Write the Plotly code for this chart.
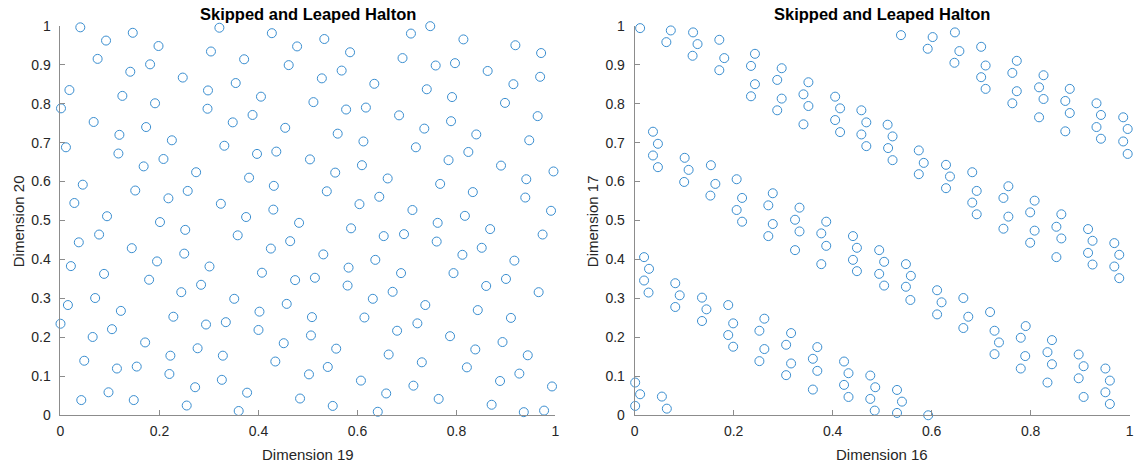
import plotly.graph_objects as go

# Left panel: Dimension 19 (x) vs Dimension 20 (y)
dim19 = [
    0.040, 0.092, 0.146, 0.198, 0.321, 0.427, 0.478, 0.075, 0.141, 0.181, 0.304, 0.371, 0.461,
    0.018, 0.125, 0.247, 0.298, 0.354, 0.405, 0.001, 0.191, 0.297, 0.388, 0.067, 0.173, 0.348,
    0.454, 0.119, 0.225, 0.011, 0.331, 0.436,
    0.533, 0.585, 0.708, 0.747, 0.814, 0.919, 0.971, 0.691, 0.758, 0.797, 0.568, 0.528, 0.863,
    0.634, 0.740, 0.915, 0.969, 0.511, 0.577, 0.617, 0.791, 0.898, 0.684, 0.789, 0.964, 0.560,
    0.735, 0.840, 0.612, 0.947, 0.718, 0.824,
    0.117, 0.397, 0.168, 0.208, 0.274, 0.381, 0.045, 0.431, 0.151, 0.257, 0.218, 0.028, 0.324,
    0.430, 0.094, 0.375, 0.201, 0.482, 0.252, 0.078, 0.358, 0.037, 0.464, 0.144, 0.425, 0.250,
    0.195, 0.021, 0.301, 0.088, 0.407, 0.179, 0.474, 0.284,
    0.504, 0.555, 0.609, 0.661, 0.784, 0.890, 0.941, 0.996, 0.538, 0.644, 0.604, 0.767, 0.833,
    0.939, 0.711, 0.817, 0.991, 0.587, 0.762, 0.868, 0.653, 0.694, 0.974, 0.760, 0.851, 0.531,
    0.636, 0.812, 0.917, 0.582, 0.688, 0.794, 0.514, 0.900, 0.580, 0.860,
    0.244, 0.070, 0.015, 0.122, 0.351, 0.402, 0.457, 0.228, 0.000, 0.294, 0.334, 0.104, 0.065,
    0.400, 0.171, 0.277, 0.451, 0.048, 0.222, 0.328, 0.114, 0.154, 0.434, 0.220, 0.326, 0.272,
    0.097, 0.377, 0.042, 0.148, 0.484, 0.255, 0.360,
    0.671, 0.966, 0.631, 0.737, 0.508, 0.614, 0.843, 0.910, 0.506, 0.680, 0.721, 0.787, 0.557,
    0.838, 0.893, 0.663, 0.944, 0.502, 0.540, 0.730, 0.821, 0.927, 0.607, 0.888, 0.713, 0.658,
    0.993, 0.764, 0.550, 0.871, 0.641, 0.936, 0.977,
]
dim20 = [
    0.996, 0.962, 0.982, 0.948, 0.995, 0.981, 0.947, 0.915, 0.882, 0.901, 0.934, 0.914, 0.899,
    0.835, 0.820, 0.867, 0.834, 0.853, 0.818, 0.788, 0.801, 0.787, 0.771, 0.753, 0.740, 0.752,
    0.738, 0.720, 0.706, 0.688, 0.692, 0.677,
    0.966, 0.932, 0.980, 0.999, 0.965, 0.950, 0.930, 0.917, 0.898, 0.904, 0.885, 0.865, 0.884,
    0.851, 0.837, 0.850, 0.869, 0.804, 0.785, 0.790, 0.817, 0.802, 0.770, 0.755, 0.768, 0.723,
    0.736, 0.721, 0.703, 0.706, 0.688, 0.676,
    0.672, 0.671, 0.639, 0.658, 0.624, 0.610, 0.592, 0.589, 0.577, 0.576, 0.557, 0.545, 0.543,
    0.528, 0.511, 0.509, 0.496, 0.494, 0.476, 0.464, 0.462, 0.444, 0.447, 0.429, 0.428, 0.415,
    0.395, 0.383, 0.382, 0.363, 0.366, 0.348, 0.347, 0.335,
    0.657, 0.623, 0.642, 0.608, 0.655, 0.641, 0.606, 0.626, 0.575, 0.561, 0.542, 0.594, 0.573,
    0.559, 0.527, 0.512, 0.525, 0.480, 0.494, 0.478, 0.460, 0.465, 0.464, 0.446, 0.430, 0.413,
    0.399, 0.412, 0.397, 0.379, 0.365, 0.365, 0.353, 0.350, 0.333, 0.332,
    0.316, 0.301, 0.283, 0.268, 0.299, 0.266, 0.286, 0.253, 0.235, 0.233, 0.239, 0.221, 0.201,
    0.219, 0.187, 0.172, 0.185, 0.140, 0.153, 0.153, 0.120, 0.125, 0.138, 0.106, 0.091, 0.072,
    0.059, 0.058, 0.039, 0.039, 0.043, 0.025, 0.011,
    0.317, 0.316, 0.299, 0.283, 0.252, 0.251, 0.270, 0.250, 0.205, 0.217, 0.236, 0.203, 0.171,
    0.169, 0.188, 0.156, 0.154, 0.105, 0.124, 0.136, 0.123, 0.107, 0.089, 0.088, 0.076, 0.056,
    0.074, 0.042, 0.024, 0.027, 0.009, 0.008, 0.012,
]

# Right panel: Dimension 16 (x) vs Dimension 17 (y)
dim16 = [
    0.011, 0.073, 0.118, 0.064, 0.127, 0.171, 0.117, 0.181, 0.243, 0.171, 0.235, 0.297, 0.243,
    0.288, 0.351, 0.235, 0.297, 0.341, 0.405, 0.288, 0.351, 0.415, 0.458, 0.341, 0.405, 0.468,
    0.415, 0.458, 0.468, 0.037, 0.047,
    0.538, 0.602, 0.647, 0.592, 0.656, 0.700, 0.646, 0.709, 0.772, 0.700, 0.763, 0.826, 0.709,
    0.772, 0.817, 0.879, 0.763, 0.826, 0.870, 0.933, 0.817, 0.879, 0.942, 0.987, 0.870, 0.933,
    0.996, 0.942, 0.987, 0.511, 0.521, 0.512, 0.574,
    0.037, 0.101, 0.047, 0.109, 0.154, 0.100, 0.163, 0.206, 0.153, 0.217, 0.279, 0.206, 0.270,
    0.333, 0.217, 0.279, 0.324, 0.387, 0.270, 0.333, 0.377, 0.441, 0.324, 0.387, 0.449, 0.494,
    0.377, 0.441, 0.449, 0.494, 0.019, 0.029, 0.019, 0.082,
    0.996, 0.521, 0.584, 0.629, 0.574, 0.637, 0.682, 0.629, 0.691, 0.755, 0.682, 0.745, 0.808,
    0.691, 0.755, 0.799, 0.862, 0.745, 0.808, 0.852, 0.916, 0.799, 0.862, 0.925, 0.969, 0.852,
    0.916, 0.979, 0.925, 0.969, 0.979, 0.504, 0.548, 0.558, 0.504, 0.548,
    0.028, 0.091, 0.082, 0.136, 0.145, 0.189, 0.136, 0.199, 0.262, 0.189, 0.252, 0.316, 0.199,
    0.262, 0.306, 0.369, 0.252, 0.316, 0.360, 0.423, 0.306, 0.369, 0.432, 0.476, 0.360, 0.423,
    0.486, 0.432, 0.476, 0.485, 0.001, 0.011, 0.001, 0.055, 0.065,
    0.611, 0.557, 0.620, 0.664, 0.611, 0.674, 0.718, 0.664, 0.727, 0.790, 0.736, 0.780, 0.843,
    0.727, 0.789, 0.834, 0.897, 0.780, 0.843, 0.907, 0.951, 0.834, 0.897, 0.960, 0.907, 0.951,
    0.960, 0.530, 0.540, 0.530, 0.593,
]
dim17 = [
    0.994, 0.988, 0.983, 0.958, 0.953, 0.964, 0.923, 0.917, 0.928, 0.886, 0.897, 0.891, 0.850,
    0.861, 0.855, 0.819, 0.813, 0.824, 0.818, 0.783, 0.794, 0.788, 0.783, 0.747, 0.758, 0.752,
    0.727, 0.721, 0.691, 0.728, 0.697,
    0.976, 0.971, 0.983, 0.941, 0.935, 0.946, 0.905, 0.898, 0.910, 0.868, 0.879, 0.873, 0.838,
    0.832, 0.842, 0.838, 0.801, 0.812, 0.807, 0.801, 0.765, 0.776, 0.771, 0.765, 0.729, 0.740,
    0.735, 0.710, 0.703, 0.746, 0.716, 0.686, 0.680,
    0.667, 0.661, 0.637, 0.630, 0.642, 0.599, 0.594, 0.606, 0.564, 0.558, 0.570, 0.527, 0.539,
    0.533, 0.497, 0.491, 0.502, 0.497, 0.460, 0.472, 0.467, 0.460, 0.424, 0.435, 0.430, 0.424,
    0.388, 0.399, 0.370, 0.363, 0.406, 0.376, 0.346, 0.339,
    0.671, 0.655, 0.648, 0.643, 0.619, 0.613, 0.624, 0.583, 0.576, 0.588, 0.546, 0.558, 0.551,
    0.516, 0.510, 0.521, 0.516, 0.479, 0.474, 0.484, 0.478, 0.443, 0.454, 0.448, 0.442, 0.406,
    0.417, 0.412, 0.387, 0.382, 0.352, 0.394, 0.388, 0.358, 0.333, 0.330,
    0.315, 0.308, 0.278, 0.302, 0.272, 0.283, 0.242, 0.236, 0.248, 0.206, 0.217, 0.211, 0.176,
    0.170, 0.181, 0.175, 0.139, 0.133, 0.145, 0.138, 0.103, 0.114, 0.108, 0.102, 0.066, 0.078,
    0.072, 0.047, 0.042, 0.012, 0.084, 0.054, 0.024, 0.048, 0.017,
    0.321, 0.296, 0.290, 0.301, 0.259, 0.253, 0.265, 0.224, 0.217, 0.229, 0.187, 0.199, 0.193,
    0.157, 0.152, 0.162, 0.156, 0.120, 0.131, 0.126, 0.120, 0.084, 0.095, 0.089, 0.047, 0.059,
    0.029, 0.065, 0.035, 0.006, 0.000,
]

x_ticks = [0, 0.2, 0.4, 0.6, 0.8, 1]
x_tick_text = ["0", "0.2", "0.4", "0.6", "0.8", "1"]
y_ticks = [0, 0.1, 0.2, 0.3, 0.4, 0.5, 0.6, 0.7, 0.8, 0.9, 1]
y_tick_text = ["0", "0.1", "0.2", "0.3", "0.4", "0.5", "0.6", "0.7", "0.8", "0.9", "1"]

panel_title = "Skipped and Leaped Halton"
MARKER_BLUE = "#3a8ed0"
AXIS_GRAY = "#8c8c8c"
TEXT_DARK = "#262626"
FONT = "Liberation Sans, Arial, Helvetica, sans-serif"

W, H = 1136, 467

# The page is shown with a small offset and scale; layout positions are
# written in displayed pixels and converted to figure pixels here.
SHOW_SX, SHOW_OX = 0.993, 2.8
SHOW_SY, SHOW_OY = 0.967, 7.7


def px_x(p):
    return min(1.0, max(0.0, (p - SHOW_OX) / SHOW_SX / W))


def px_y(p):
    return min(1.0, max(0.0, 1 - (p - SHOW_OY) / SHOW_SY / H))


fig = go.Figure()

marker = dict(symbol="circle-open", size=9, color=MARKER_BLUE, line=dict(width=1, color=MARKER_BLUE))

fig.add_trace(go.Scatter(x=dim19, y=dim20, mode="markers", marker=marker,
                         cliponaxis=False, xaxis="x", yaxis="y", showlegend=False))
fig.add_trace(go.Scatter(x=dim16, y=dim17, mode="markers", marker=marker,
                         cliponaxis=False, xaxis="x2", yaxis="y2", showlegend=False))

y_dom = [px_y(415.5), px_y(25.5)]
left_dom = [px_x(59.3), px_x(554.3)]
right_dom = [px_x(633.5), px_x(1128.5)]

axis_common = dict(
    range=[0, 1], showgrid=False, zeroline=False, showline=True,
    linecolor=AXIS_GRAY, linewidth=1, ticks="inside", ticklen=5,
    tickcolor=AXIS_GRAY, tickwidth=1, mirror=False,
    tickfont=dict(family=FONT, size=14, color=TEXT_DARK),
)

fig.update_layout(
    width=W, height=H,
    margin=dict(l=0, r=0, t=0, b=0),
    paper_bgcolor="white", plot_bgcolor="white",
    xaxis=dict(domain=left_dom, anchor="y", tickvals=x_ticks, ticktext=x_tick_text,
               ticklabelstandoff=3, **axis_common),
    yaxis=dict(domain=y_dom, anchor="x", tickvals=y_ticks, ticktext=y_tick_text,
               ticklabelstandoff=6, **axis_common),
    xaxis2=dict(domain=right_dom, anchor="y2", tickvals=x_ticks, ticktext=x_tick_text,
                ticklabelstandoff=3, **axis_common),
    yaxis2=dict(domain=y_dom, anchor="x2", tickvals=y_ticks, ticktext=y_tick_text,
                ticklabelstandoff=6, **axis_common),
)

labels = [
    (panel_title, px_x(306.8), px_y(13.5), 16.5, True, 0),
    (panel_title, px_x(881), px_y(13.5), 16.5, True, 0),
    ("Dimension 19", px_x(306.8), px_y(454.5), 15, False, 0),
    ("Dimension 16", px_x(881), px_y(454.5), 15, False, 0),
    ("Dimension 20", px_x(17), px_y(221), 15, False, -90),
    ("Dimension 17", px_x(591), px_y(221), 15, False, -90),
]
for text, x, y, size, bold, angle in labels:
    fig.add_annotation(
        text=f"<b>{text}</b>" if bold else text,
        x=x, y=y, xref="paper", yref="paper",
        xanchor="center", yanchor="middle", showarrow=False, textangle=angle,
        font=dict(family=FONT, size=size, color="#000000" if bold else TEXT_DARK),
    )

fig.write_html("out.html")
